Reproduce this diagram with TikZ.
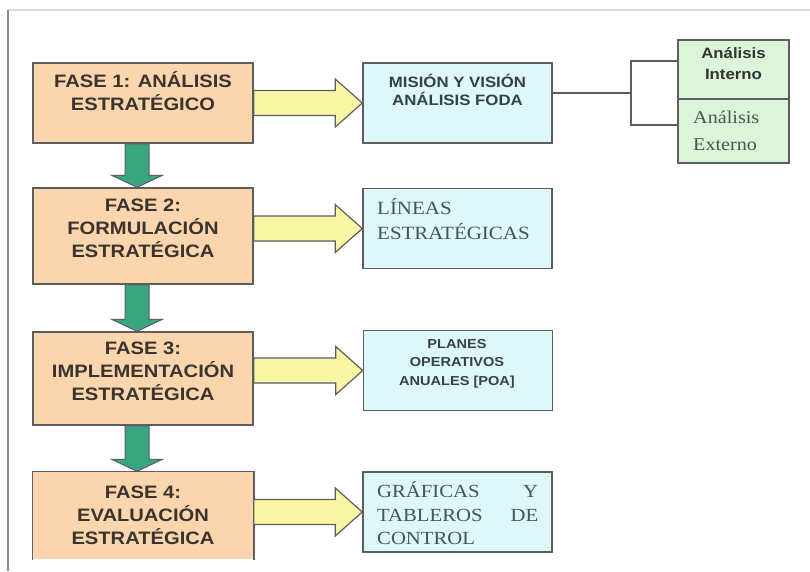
\documentclass[tikz,border=0pt]{standalone}
\usepackage{fontspec}
\setmainfont{Liberation Serif}[FakeStretch=1.12]
\newfontfamily\arialw{Liberation Sans}[FakeStretch=1.12]
\usetikzlibrary{calc,positioning}

\definecolor{fasefill}{HTML}{FAD5AE}
\definecolor{metafill}{HTML}{DDF7FB}
\definecolor{anafill}{HTML}{DCF5DA}
\definecolor{amarillo}{HTML}{F9F7A6}
\definecolor{verdeflecha}{HTML}{38A67E}
\definecolor{borde}{HTML}{5E5E5E}
\definecolor{txtfase}{HTML}{3B342E}
\definecolor{txtmeta}{HTML}{364242}
\definecolor{txtserif}{HTML}{43574F}

\begin{document}
\begin{tikzpicture}[x=1pt,y=-1pt,
	caja/.style={draw=borde, line width=1.5pt, inner sep=0pt},
	fase/.style={caja, fill=fasefill, minimum width=220pt},
	meta/.style={caja, fill=metafill, minimum width=189pt, minimum height=80pt},
	ana/.style={caja, fill=anafill, minimum width=111pt},
	fasetxt/.style={align=center, inner sep=0pt, text=txtfase, font=\arialw\bfseries\fontsize{18}{23}\selectfont},
	negrita/.style={align=center, inner sep=0pt, text=txtmeta, font=\arialw\bfseries},
	romana/.style={align=left, inner sep=0pt, anchor=west, text=txtserif},
	amarilla/.style={draw=borde, line width=1.2pt, fill=amarillo, line join=miter},
	verde/.style={draw=borde, line width=1pt, fill=verdeflecha},
	linea/.style={draw=borde, line width=1.4pt}]

		\useasboundingbox (0,0) rectangle (810,571);
		\draw [black!15, line width=1.5pt] (8,10) -- (810,10);
		\draw [black!45, line width=2pt] (8,10) -- (8,571);

		% fases
		\node [fase, minimum height=80pt] (f1) at (143,103) {};
		\node [fase, minimum height=96pt] (f2) at (143,236) {};
		\node [fase, minimum height=93pt] (f3) at (143,378.5) {};
		\node [fase, draw=none, minimum height=87pt] (f4) at (143,515.5) {};
		\draw [linea, line width=1.5pt] (f4.south west) |- (f4.north east) -- (f4.south east);

		% resultados
		\node [meta] (m1) at (457.5,103) {};
		\node [meta] (m2) at (457.5,228.5) {};
		\node [meta] (m3) at (458,370.5) {};
		\node [meta] (m4) at (457.5,512) {};

		\node [ana, minimum height=59pt] (g1) at (733.5,69.5) {};
		\node [ana, minimum height=64pt] (g2) at (733.5,131) {};

		\coordinate (bus) at (631,93);
		\draw [linea] (m1.east |- bus) -- (bus);
		\draw [linea] ($(g1.west)+(0,-8.5)$) -| (bus) |- ($(g2.west)+(0,-6)$);

		% flechas amarillas
		\draw [amarilla] ($(f1.east |- m1.west)+(0,-12.5)$) -- ($(m1.west)+(-27,-12.5)$) -- ($(m1.west)+(-27,-24)$) -- (m1.west) -- ($(m1.west)+(-27,24)$) -- ($(m1.west)+(-27,12.5)$) -- ($(f1.east |- m1.west)+(0,12.5)$) -- cycle;
		\draw [amarilla] ($(f2.east |- m2.west)+(0,-12.5)$) -- ($(m2.west)+(-27,-12.5)$) -- ($(m2.west)+(-27,-24)$) -- (m2.west) -- ($(m2.west)+(-27,24)$) -- ($(m2.west)+(-27,12.5)$) -- ($(f2.east |- m2.west)+(0,12.5)$) -- cycle;
		\draw [amarilla] ($(f3.east |- m3.west)+(0,-12.5)$) -- ($(m3.west)+(-27,-12.5)$) -- ($(m3.west)+(-27,-24)$) -- (m3.west) -- ($(m3.west)+(-27,24)$) -- ($(m3.west)+(-27,12.5)$) -- ($(f3.east |- m3.west)+(0,12.5)$) -- cycle;
		\draw [amarilla] ($(f4.east |- m4.west)+(0,-12.5)$) -- ($(m4.west)+(-27,-12.5)$) -- ($(m4.west)+(-27,-24)$) -- (m4.west) -- ($(m4.west)+(-27,24)$) -- ($(m4.west)+(-27,12.5)$) -- ($(f4.east |- m4.west)+(0,12.5)$) -- cycle;

		% flechas verdes
		\draw [verde] ($(f1.south)+(-18,0)$) -- ($(f1.south)+(6,0)$) -- ($(f2.north)+(6,-12)$) -- ($(f2.north)+(19.5,-12)$) -- ($(f2.north)+(-6,0)$) -- ($(f2.north)+(-31.5,-12)$) -- ($(f2.north)+(-18,-12)$) -- cycle;
		\draw [verde] ($(f2.south)+(-18,0)$) -- ($(f2.south)+(6,0)$) -- ($(f3.north)+(6,-12)$) -- ($(f3.north)+(19.5,-12)$) -- ($(f3.north)+(-6,0)$) -- ($(f3.north)+(-31.5,-12)$) -- ($(f3.north)+(-18,-12)$) -- cycle;
		\draw [verde] ($(f3.south)+(-18,0)$) -- ($(f3.south)+(6,0)$) -- ($(f4.north)+(6,-12)$) -- ($(f4.north)+(19.5,-12)$) -- ($(f4.north)+(-6,0)$) -- ($(f4.north)+(-31.5,-12)$) -- ($(f4.north)+(-18,-12)$) -- cycle;

		% textos
		\node [fasetxt] (t1) at (143,91.5) {FASE 1: ANÁLISIS\\ESTRATÉGICO};
		\node [fasetxt] (t2) at (143,228.5) {FASE 2:\\FORMULACIÓN\\ESTRATÉGICA};
		\node [fasetxt] (t3) at (143,371.5) {FASE 3:\\IMPLEMENTACIÓN\\ESTRATÉGICA};
		\node [fasetxt] (t4) at (143,515.5) {FASE 4:\\EVALUACIÓN\\ESTRATÉGICA};

		\node [negrita, font=\arialw\bfseries\fontsize{15}{18}\selectfont] (u1) at (457.5,90) {MISIÓN Y VISIÓN\\ANÁLISIS FODA};
		\node [romana, font=\fontsize{18.7}{25}\selectfont] (u2) at (377,219.5) {LÍNEAS\\ESTRATÉGICAS};
		\node [negrita, font=\arialw\bfseries\fontsize{13}{18.5}\selectfont] (u3) at (457,363.5) {PLANES\\OPERATIVOS\\ANUALES [POA]};
		\node [romana, font=\fontsize{18.5}{23.5}\selectfont] (u4) at (377,513.5) {\hbox to 161pt{GRÁFICAS\hfill Y}\\\hbox to 161pt{TABLEROS\hfill DE}\\CONTROL};

		\node [negrita, text=black!80, font=\arialw\bfseries\fontsize{15}{21}\selectfont] (v1) at (733.5,63.5) {Análisis\\Interno};
		\node [romana, font=\fontsize{18}{27}\selectfont] (v2) at (693,131) {Análisis\\Externo};

\end{tikzpicture}
\end{document}
